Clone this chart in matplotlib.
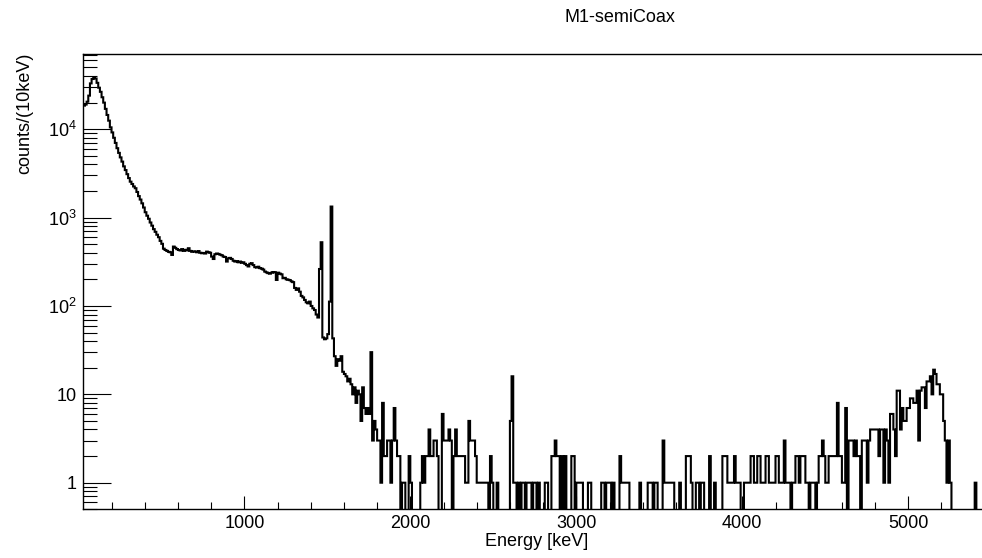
import numpy as np
import matplotlib
matplotlib.use("Agg")
import matplotlib.pyplot as plt
from matplotlib.ticker import FixedLocator, MultipleLocator, LogLocator, NullFormatter

plt.rcParams.update({
    "font.family": ["Liberation Sans", "DejaVu Sans"],
    "mathtext.fontset": "custom",
    "mathtext.rm": "Liberation Sans",
    "mathtext.default": "regular",
})

# ── histogram data : 10 keV bins starting at 30 keV ──────────────────────────
E_START = 30
BIN_W = 10

counts_30_590 = [
    18500, 19000, 20500, 24000, 33000, 37000, 38500, 37500, 33500, 29500,
    26500, 23000, 20000, 17000, 14500, 12500, 10500, 9200, 8000, 7000,
    6100, 5400, 4800, 4300, 3800, 3450, 3100, 2800, 2550, 2400,
    2250, 2150, 1950, 1750, 1600, 1450, 1300, 1150, 1050, 970,
    880, 810, 740, 690, 640, 600, 545, 505, 445, 430,
    420, 410, 405, 378, 470, 455, 440,
]
counts_600_1190 = [
    430, 425, 440, 420, 432, 425, 450, 420, 410, 415,
    412, 405, 418, 400, 395, 398, 392, 412, 405, 400,
    362, 340, 385, 392, 388, 380, 375, 362, 358, 318,
    345, 350, 340, 325, 318, 322, 312, 318, 308, 312,
    300, 290, 280, 300, 305, 290, 275, 272, 278, 268,
    265, 258, 245, 240, 235, 232, 238, 242, 240, 197,
]
counts_1200_1690 = [
    238, 232, 228, 206, 208, 200, 198, 196, 190, 186,
    160, 152, 158, 145, 130, 125, 117, 110, 107, 112,
    100, 94, 90, 80, 74, 262, 526, 44, 42, 43,
    48, 112, 1333, 43, 27, 21, 25, 24, 27, 18,
    17, 16, 14, 15, 13, 10, 12, 8, 11, 10,
]
counts_1700_2690 = [
    5, 12, 7, 6, 7, 6, 30, 3, 5, 4,
    3, 3, 1, 8, 2, 2, 3, 3, 1, 3,
    7, 3, 2, 2, 0, 1, 1, 0, 0, 2,
    1, 0, 0, 0, 0, 0, 1, 2, 1, 2,
    2, 4, 2, 2, 3, 3, 2, 0, 0, 6,
    3, 3, 3, 4, 3, 0, 2, 4, 2, 2,
    2, 2, 2, 1, 1, 5, 3, 3, 3, 2,
    1, 1, 1, 1, 1, 1, 1, 0, 2, 1,
    0, 0, 1, 0, 0, 0, 0, 0, 0, 0,
    5, 16, 1, 1, 0, 1, 0, 1, 1, 0,
]
counts_2700_3690 = [
    1, 1, 1, 0, 1, 1, 0, 1, 0, 0,
    0, 1, 1, 0, 0, 2, 2, 3, 2, 2,
    0, 2, 0, 2, 0, 0, 0, 2, 2, 0,
    1, 1, 1, 1, 0, 0, 0, 1, 1, 0,
    0, 0, 0, 0, 0, 1, 1, 0, 1, 1,
    1, 0, 1, 0, 0, 0, 2, 1, 1, 1,
    1, 1, 0, 0, 0, 0, 0, 0, 1, 0,
    0, 0, 0, 1, 1, 1, 0, 1, 1, 0,
    0, 0, 3, 1, 1, 1, 1, 1, 1, 0,
    0, 0, 1, 0, 0, 0, 2, 2, 2, 1,
]
counts_3700_4690 = [
    0, 0, 1, 1, 0, 1, 1, 0, 0, 0,
    2, 0, 0, 1, 0, 0, 0, 0, 2, 2,
    2, 1, 1, 1, 1, 2, 1, 1, 1, 0,
    0, 1, 1, 1, 1, 2, 2, 1, 1, 2,
    2, 1, 1, 1, 2, 2, 1, 1, 1, 1,
    2, 2, 1, 1, 1, 3, 1, 1, 1, 0,
    1, 1, 2, 2, 1, 2, 2, 2, 1, 1,
    0, 1, 1, 1, 0, 1, 2, 2, 3, 2,
    1, 1, 2, 2, 2, 2, 2, 8, 2, 2,
    1, 1, 7, 0, 3, 3, 3, 2, 3, 2,
]
counts_4700_5440 = [
    2, 0, 3, 3, 3, 1, 3, 4, 4, 4,
    4, 4, 2, 4, 4, 1, 4, 3, 1, 6,
    6, 4, 2, 11, 11, 4, 7, 5, 5, 7,
    7, 9, 9, 8, 8, 11, 3, 11, 12, 12,
    7, 14, 14, 16, 10, 19, 17, 13, 13, 10,
    10, 5, 3, 1, 3, 1, 0, 0, 0, 0,
    0, 0, 0, 0, 0, 0, 0, 0, 0, 0,
    1, 0, 0, 0, 0,
]

counts = np.array(counts_30_590 + counts_600_1190 + counts_1200_1690
                  + counts_1700_2690 + counts_2700_3690 + counts_3700_4690
                  + counts_4700_5440, dtype=float)
edges = E_START + BIN_W * np.arange(len(counts) + 1)

Y_MAJOR = [1, 10, 100, 1000, 10000]
Y_LABELS = ["1", "10", "$10^{2}$", "$10^{3}$", "$10^{4}$"]

# ── figure ───────────────────────────────────────────────────────────────────
W, H = 982, 558
fig = plt.figure(figsize=(W / 100, H / 100), dpi=100)
ax = fig.add_axes([83.3 / W, 1 - 509.3 / H, 1 - 83.3 / W, (509.3 - 54) / H])

# empty bins drop to the frame bottom, as ROOT draws them on a log axis
shown = np.where(counts > 0, counts, 1e-2)
ax.stairs(shown, edges, baseline=None, color="black", linewidth=1.5)

ax.set_yscale("log")
ax.set_xlim(30, 5444)
ax.set_ylim(0.5, 71000)

ax.spines["right"].set_visible(False)
for s in ("left", "bottom", "top"):
    ax.spines[s].set_linewidth(1.0)

ax.yaxis.set_major_locator(FixedLocator(Y_MAJOR))
ax.set_yticklabels(Y_LABELS)
ax.yaxis.set_minor_locator(LogLocator(base=10, subs=np.arange(2, 10)))
ax.yaxis.set_minor_formatter(NullFormatter())
ax.xaxis.set_major_locator(MultipleLocator(1000))
ax.xaxis.set_minor_locator(MultipleLocator(200))

ax.tick_params(axis="y", which="major", direction="in", length=20, width=0.8,
               labelsize=13, pad=5)
ax.tick_params(axis="y", which="minor", direction="in", length=10, width=0.8)
ax.tick_params(axis="x", which="major", direction="in", length=9.4, width=0.8,
               labelsize=13, pad=4)
ax.tick_params(axis="x", which="minor", direction="in", length=5, width=0.8)

fig.text(620 / W, 1 - 18 / H, "M1-semiCoax", ha="center", va="center", fontsize=13)
fig.text(537 / W, 1 - 541.5 / H, "Energy [keV]", ha="center", va="center", fontsize=13)
fig.text(25 / W, 1 - 53 / H, "counts/(10keV)", ha="center", va="top",
         rotation=90, fontsize=13)

fig.savefig("out.png", dpi=100)
